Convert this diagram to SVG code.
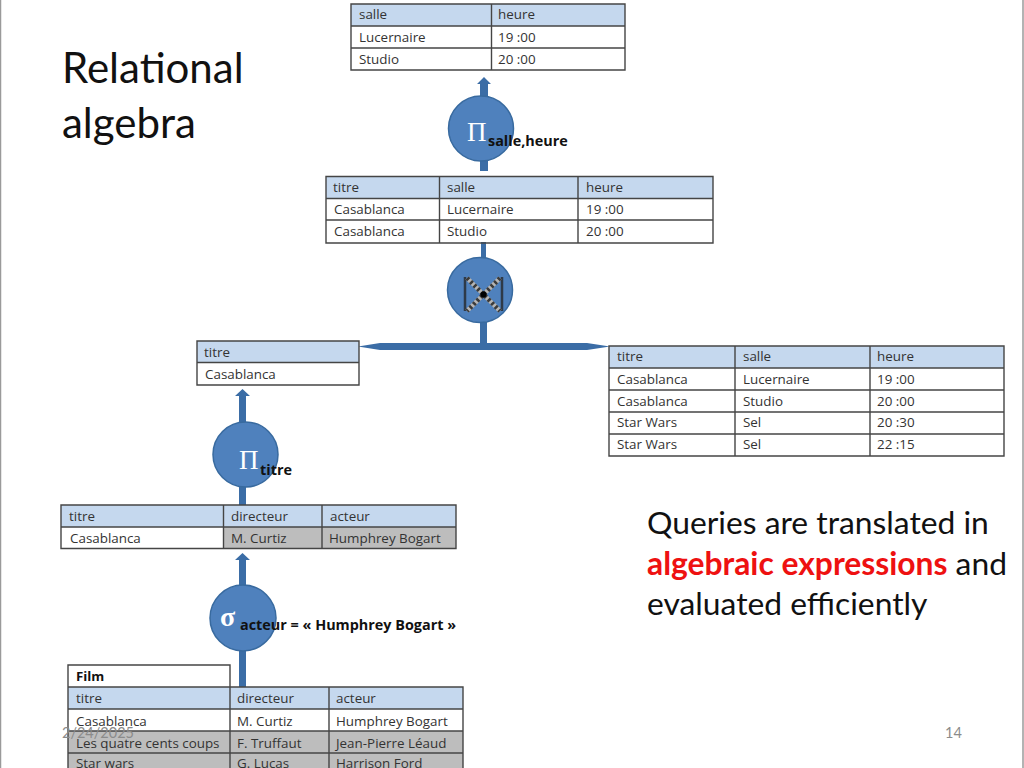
<svg xmlns="http://www.w3.org/2000/svg" width="1024" height="768" viewBox="0 0 1024 768">
<style>
.t{font-family:"Open Sans","Noto Sans",sans-serif;font-size:13.4px;fill:#333}
.b{font-family:"Open Sans","Noto Sans",sans-serif;font-size:14.4px;font-weight:700;fill:#111}
.film{font-size:13.2px}
.h{fill:#c5d8ee}
.g{fill:#bdbdbd}
.l{stroke:#454545;stroke-width:1.4;fill:none}
.big{font-family:Lato,"Liberation Sans",sans-serif;fill:#111}
.c{fill:#4f81bd;stroke:#386a9f;stroke-width:1.5}
.sym{font-family:"Liberation Serif",serif;fill:#fff}
.f{fill:#3b6da6}
.foot{font-family:Lato,"Liberation Sans",sans-serif;font-size:14.5px;fill:#8b8b8b}
</style>
<rect width="1024" height="768" fill="#fff"/>
<g id="frame"><path d="M0.500 0V768M1023 0V768" stroke="#9a9a9a" stroke-width="1.5" fill="none"/></g>
<g id="title"><text class="big" x="62" y="83" font-size="42">Relational</text><text class="big" x="62" y="138" font-size="42">algebra</text></g>
<g id="connectors">
<path class="f" d="M480 97V84H477L484 77L491 84H488V97ZM480 160H488V171H480Z"/>
<path class="f" d="M481 242H486V258H481ZM480 322H487V344H480Z"/>
<path class="f" d="M358 346.500L380 343H587L610 346.500L587 350H380Z"/>
<path class="f" d="M239 423V396H235L242.500 389L250 396H246V423ZM239 486H246V505H239Z"/>
<path class="f" d="M239 586V560H235L242.500 553L250 560H246V586ZM239 650H246V687H239Z"/>
</g>
<g id="table-result">
<rect class="h" x="351" y="4" width="274" height="22"/>
<path class="l" d="M351 4H625V70H351ZM351 26H625M351 48H625M491.500 4V70"/>
<text class="t" x="359" y="19">salle</text><text class="t" x="498" y="19">heure</text>
<text class="t" x="359" y="42">Lucernaire</text><text class="t" x="498" y="42">19 :00</text>
<text class="t" x="359" y="64">Studio</text><text class="t" x="498" y="64">20 :00</text>
</g>
<g id="op-project-salle">
<circle class="c" cx="481" cy="128.500" r="32.500"/>
<text class="sym" x="467" y="141" font-size="27">Π</text>
<text class="b" x="488" y="146">salle,heure</text>
</g>
<g id="table-join">
<rect class="h" x="326" y="176.500" width="387" height="22"/>
<path class="l" d="M326 176.500H713V243H326ZM326 198.500H713M326 220H713M439.500 176.500V243M578 176.500V243"/>
<text class="t" x="333" y="192">titre</text><text class="t" x="447" y="192">salle</text><text class="t" x="586" y="192">heure</text>
<text class="t" x="334" y="214">Casablanca</text><text class="t" x="447" y="214">Lucernaire</text><text class="t" x="586" y="214">19 :00</text>
<text class="t" x="334" y="236">Casablanca</text><text class="t" x="447" y="236">Studio</text><text class="t" x="586" y="236">20 :00</text>
</g>
<g id="op-join">
<circle class="c" cx="480" cy="290" r="32.500"/>
<path d="M465 277V311M502 277V311" stroke="#2e3a48" stroke-width="2.500" fill="none"/>
<path d="M467 278L500 311M500 278L467 311" stroke="#b5b5b5" stroke-width="4.500" fill="none"/>
<path d="M467 278L500 311M500 278L467 311" stroke="#3a3a3a" stroke-width="4.500" stroke-dasharray="2.500 2.500" fill="none"/>
<circle cx="483.500" cy="294.500" r="3" fill="#000"/>
</g>
<g id="table-titre">
<rect class="h" x="197" y="341" width="162" height="21.500"/>
<path class="l" d="M197 341H359V385H197ZM197 362.500H359"/>
<text class="t" x="204" y="357">titre</text>
<text class="t" x="205" y="379">Casablanca</text>
</g>
<g id="table-seances">
<rect class="h" x="609" y="346" width="395" height="22"/>
<path class="l" d="M609 346H1004V456H609ZM609 368H1004M609 390H1004M609 412H1004M609 434H1004M735 346V456M870 346V456"/>
<text class="t" x="617" y="361">titre</text><text class="t" x="743" y="361">salle</text><text class="t" x="877" y="361">heure</text>
<text class="t" x="617" y="384">Casablanca</text><text class="t" x="743" y="384">Lucernaire</text><text class="t" x="877" y="384">19 :00</text>
<text class="t" x="617" y="406">Casablanca</text><text class="t" x="743" y="406">Studio</text><text class="t" x="877" y="406">20 :00</text>
<text class="t" x="617" y="427">Star Wars</text><text class="t" x="743" y="427">Sel</text><text class="t" x="877" y="427">20 :30</text>
<text class="t" x="617" y="449">Star Wars</text><text class="t" x="743" y="449">Sel</text><text class="t" x="877" y="449">22 :15</text>
</g>
<g id="op-project-titre">
<circle class="c" cx="245.500" cy="454.500" r="32.500"/>
<text class="sym" x="239" y="469" font-size="27">Π</text>
<text class="b" x="260" y="475">titre</text>
</g>
<g id="table-selection">
<rect class="h" x="61" y="505" width="395" height="22"/>
<rect class="g" x="223.500" y="527" width="232.500" height="22"/>
<path class="l" d="M61 505H456V548.500H61ZM61 527H456M223.500 505V548.500M322 505V548.500"/>
<text class="t" x="69" y="521">titre</text><text class="t" x="231" y="521">directeur</text><text class="t" x="330" y="521">acteur</text>
<text class="t" x="70" y="543">Casablanca</text><text class="t" x="231" y="543">M. Curtiz</text><text class="t" x="329" y="543">Humphrey Bogart</text>
</g>
<g id="op-select">
<circle class="c" cx="243" cy="618" r="33"/>
<text class="sym" x="220" y="626" font-size="28" font-weight="700">σ</text>
<text class="b" x="240" y="630">acteur = « Humphrey Bogart »</text>
</g>
<g id="table-film">
<rect class="h" x="68" y="687" width="395" height="22"/>
<rect class="g" x="68" y="731" width="395" height="37"/>
<path class="l" d="M68 687V665H230V687M68 687H463V768M68 687V768M68 709H463M68 731H463M68 753H463M230 687V768M329 687V768"/>
<text class="b film" x="76" y="681">Film</text>
<text class="t" x="76" y="703">titre</text><text class="t" x="237" y="703">directeur</text><text class="t" x="336" y="703">acteur</text>
<text class="t" x="76" y="726">Casablanca</text><text class="t" x="237" y="726">M. Curtiz</text><text class="t" x="336" y="726">Humphrey Bogart</text>
<text class="t" x="76" y="748">Les quatre cents coups</text><text class="t" x="237" y="748">F. Truffaut</text><text class="t" x="336" y="748">Jean-Pierre Léaud</text>
<text class="t" x="76" y="768">Star wars</text><text class="t" x="237" y="768">G. Lucas</text><text class="t" x="336" y="768">Harrison Ford</text>
</g>
<g id="caption" font-family="Lato,'Liberation Sans',sans-serif" font-size="31.800" fill="#111">
<text x="647" y="534">Queries are translated in</text>
<text x="647" y="575"><tspan fill="#ee1111" font-weight="700">algebraic expressions</tspan> and</text>
<text x="647" y="615">evaluated efficiently</text>
</g>
<g id="footer"><text class="foot" x="62" y="738">2/24/2025</text><text class="foot" x="945" y="738">14</text></g>
</svg>
